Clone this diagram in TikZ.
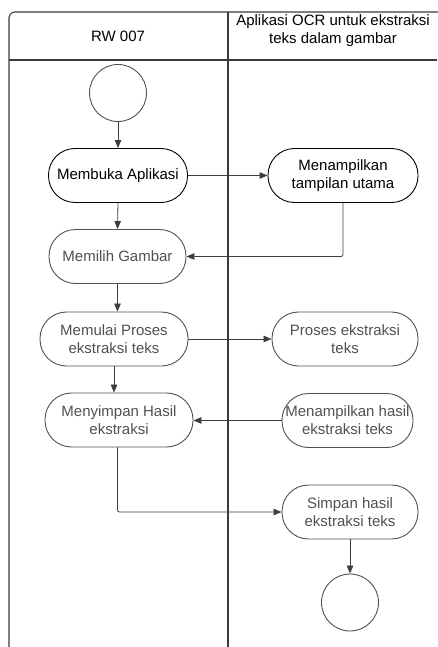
\documentclass[tikz,border=0pt]{standalone}
\usepackage{fontspec}
\setmainfont{Liberation Sans}
\usetikzlibrary{arrows.meta}
\definecolor{lane}{HTML}{3A3A3A}
\definecolor{edge}{HTML}{3A3D44}
\definecolor{soft}{HTML}{505050}
\begin{document}
\begin{tikzpicture}[x=1pt,y=-1pt,
  act/.style={draw=#1,line width=0.9pt,rounded corners=26.5pt,minimum height=54pt,align=center,font=\fontsize{15}{18}\selectfont,text=#1,inner sep=2pt},
  act/.default=black,
  term/.style={draw=soft,line width=0.9pt,circle,minimum size=57pt,inner sep=0pt},
  flow/.style={draw=edge,line width=0.8pt,-{Triangle[length=8pt,width=6.5pt]},rounded corners=2pt},
  lanel/.style={draw=lane,line width=1.1pt}]
\useasboundingbox (0,0) rectangle (437,647);
% swimlane frame
\draw[lanel,rounded corners=6pt] (9,647) -- (9,12) -- (438,12);
\draw[lanel] (9,60) -- (437,60);
\draw[lanel] (228,12) -- (228,647);
\node[font=\fontsize{15}{18}\selectfont] (h1) at (118,36) {RW 007};
\node[font=\fontsize{15}{18}\selectfont,align=center] (h2) at (333,31) {Aplikasi OCR untuk ekstraksi\\teks dalam gambar};
% nodes
\node[term] (start) at (118,93) {};
\node[act,minimum width=139pt] (membuka) at (118,175.5) {Membuka Aplikasi};
\node[act,minimum width=150pt] (tampil) at (343,175.5) {Menampilkan\\tampilan utama};
\node[act=soft,minimum width=137pt] (memilih) at (117.5,256.5) {Memilih Gambar};
\node[act=soft,minimum width=148pt] (memulai) at (114,339) {Memulai Proses\\ekstraksi teks};
\node[act=soft,minimum width=146pt] (proses) at (345,339) {Proses ekstraksi\\teks};
\node[act=soft,minimum width=148pt] (menyimpan) at (119,420) {Menyimpan Hasil\\ekstraksi};
\node[act=soft,minimum width=131pt] (hasil) at (347.5,420.5) {Menampilkan hasil\\ekstraksi teks};
\node[act=soft,minimum width=136pt] (simpan) at (350,512) {Simpan hasil\\ekstraksi teks};
\node[term] (end) at (350,602.5) {};
% connectors
\draw[flow] (start) -- (membuka);
\draw[flow] (membuka) -- (tampil);
\draw[flow] (membuka.south) -- (memilih.north);
\draw[flow] (tampil.south) |- (memilih.east);
\draw[flow] (memilih.south) -- (memilih.south |- memulai.north);
\draw[flow] (memulai) -- (proses);
\draw[flow] (memulai.south) -- (memulai.south |- menyimpan.north);
\draw[flow] (hasil.west) -- (hasil.west -| menyimpan.east);
\draw[flow] (menyimpan.south -| memilih.south) |- (simpan.west);
\draw[flow] (simpan) -- (end);
\end{tikzpicture}
\end{document}
